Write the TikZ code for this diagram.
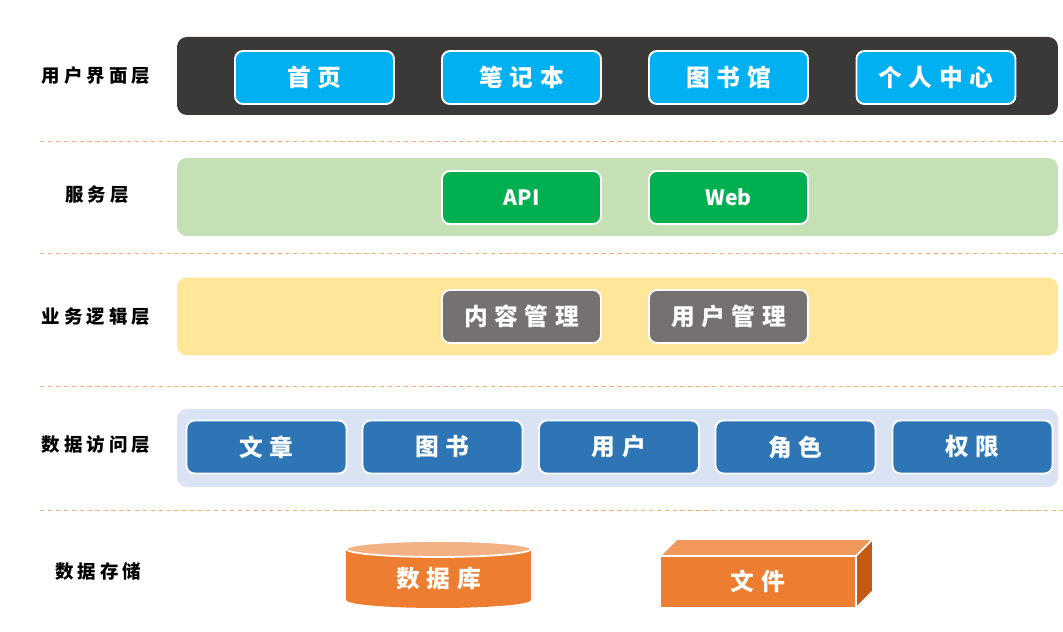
\documentclass[tikz,border=0pt]{standalone}
\usepackage{fontspec}
\usepackage{xcolor}
\usepackage{tikz}
\usetikzlibrary{positioning}
\newfontfamily\cjk{Noto Sans CJK SC}
\newfontfamily\cjklab[LetterSpace=22]{Noto Sans CJK SC}
\newfontfamily\cjkbtn[LetterSpace=28]{Noto Sans CJK SC}
\definecolor{uidark}{HTML}{3B3838}
\definecolor{uibtn}{HTML}{00B0F0}
\definecolor{svcband}{HTML}{C5E0B4}
\definecolor{svcbtn}{HTML}{00B050}
\definecolor{bizband}{HTML}{FFE699}
\definecolor{bizbtn}{HTML}{767171}
\definecolor{daoband}{HTML}{DAE3F3}
\definecolor{daobtn}{HTML}{2E75B6}
\definecolor{storeor}{HTML}{ED7D31}
\definecolor{storelt}{HTML}{F4B183}
\definecolor{storetop}{HTML}{F0975B}
\definecolor{storedk}{HTML}{C55A11}
\tikzstyle{layer} = [rectangle, draw=none, rounded corners=5.5pt, minimum width=17.62cm, minimum height=1.56cm, inner sep=0]
\tikzstyle{btn} = [rectangle, draw=white, line width=1.1pt, rounded corners=4.5pt, minimum width=3.18cm, minimum height=1.06cm, inner sep=0, text=white, font=\cjkbtn\bfseries\fontsize{13.5}{16}\selectfont]
\tikzstyle{lab} = [draw=none, inner sep=0, font=\cjklab\bfseries\fontsize{10.5}{13}\selectfont]
\tikzstyle{sep} = [draw=storelt, line width=0.5pt, dash pattern=on 2.5pt off 2pt]

\begin{document}
\begin{tikzpicture}[x=0.02cm, y=0.02cm]
\useasboundingbox (0,0) rectangle (1063,632);
% layer labels
\node [lab] (lui) at (96, 556) {用户界面层};
\node [lab] (lsvc) at (97, 437) {服务层};
\node [lab] (lbiz) at (96, 315) {业务逻辑层};
\node [lab] (ldao) at (96, 187) {数据访问层};
\node [lab] (lstore) at (98, 61) {数据存储};
% separators
\draw [sep] (40, 491) -- (1063, 491);
\draw [sep] (40, 379) -- (1063, 379);
\draw [sep] (40, 246) -- (1063, 246);
\draw [sep] (40, 122) -- (1063, 122);
% user interface layer
\node [layer, fill=uidark] (ui) at (617.5, 556) {};
\node [btn, fill=uibtn] (home) at (314.5, 554.5) {首页};
\node [btn, fill=uibtn] (note) at (521.5, 554.5) {笔记本};
\node [btn, fill=uibtn] (lib) at (728.5, 554.5) {图书馆};
\node [btn, fill=uibtn] (me) at (936, 554.5) {个人中心};
% service layer
\node [layer, fill=svcband] (svc) at (617.5, 435) {};
\node [btn, fill=svcbtn, font=\cjk\bfseries\fontsize{12}{14}\selectfont] (api) at (521.5, 434.5) {API};
\node [btn, fill=svcbtn, font=\cjk\bfseries\fontsize{12}{14}\selectfont] (web) at (728.5, 434.5) {Web};
% business logic layer
\node [layer, fill=bizband] (biz) at (617.5, 315.5) {};
\node [btn, fill=bizbtn] (content) at (521.5, 315.5) {内容管理};
\node [btn, fill=bizbtn] (usermgr) at (728.5, 315.5) {用户管理};
% data access layer
\node [layer, fill=daoband] (dao) at (617.5, 184) {};
\node [btn, fill=daobtn, minimum width=3.2cm] (article) at (266.5, 185) {文章};
\node [btn, fill=daobtn, minimum width=3.2cm] (book) at (442.5, 185) {图书};
\node [btn, fill=daobtn, minimum width=3.2cm] (user) at (619, 185) {用户};
\node [btn, fill=daobtn, minimum width=3.2cm] (role) at (795.5, 185) {角色};
\node [btn, fill=daobtn, minimum width=3.2cm] (perm) at (972.5, 185) {权限};
% storage: database cylinder
\fill [storeor] (346, 83) -- (346, 32) arc [start angle=180, end angle=360, x radius=1.85cm, y radius=0.16cm] -- (531, 83) -- cycle;
\filldraw [fill=storelt, draw=white, line width=1pt] (438.5, 83) ellipse [x radius=1.85cm, y radius=0.16cm];
\node [draw=none, text=white, font=\cjkbtn\bfseries\fontsize{13.5}{16}\selectfont] (db) at (438.5, 54) {数据库};
% storage: file box
\filldraw [fill=storeor, draw=white, line width=1pt] (660, 24) rectangle (856, 76);
\filldraw [fill=storetop, draw=white, line width=1pt] (660, 76) -- (677, 93) -- (873, 93) -- (856, 76) -- cycle;
\filldraw [fill=storedk, draw=white, line width=1pt] (856, 76) -- (873, 93) -- (873, 41) -- (856, 24) -- cycle;
\node [draw=none, text=white, font=\cjkbtn\bfseries\fontsize{13.5}{16}\selectfont] (file) at (758, 51) {文件};
\end{tikzpicture}
\end{document}
